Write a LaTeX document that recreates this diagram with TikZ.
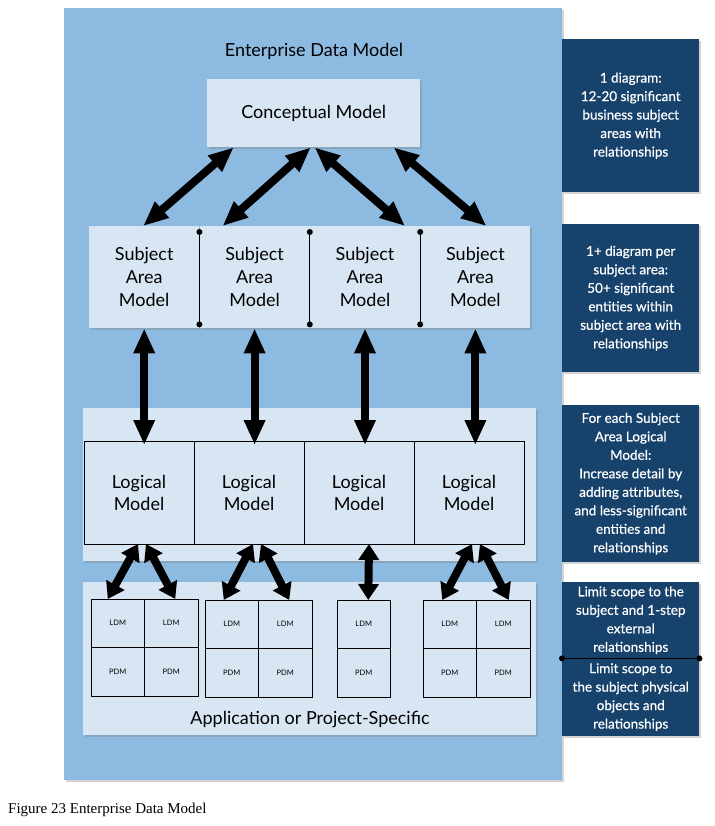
\documentclass[tikz,border=0pt]{standalone}
\usepackage{fontspec}
\setmainfont{Lato}
\newfontfamily\capfont{Liberation Serif}
\usetikzlibrary{positioning,arrows.meta,shadows}

\definecolor{edmblue}{RGB}{141,186,224}
\definecolor{boxfill}{RGB}{216,230,243}
\definecolor{notefill}{RGB}{22,66,108}

\begin{document}
\begin{tikzpicture}[x=1pt,y=-1pt,
    softshadow/.style={drop shadow={opacity=0.35,shadow xshift=2pt,shadow yshift=-2pt}},
    modelbox/.style={fill=boxfill,inner sep=0pt,align=center,font=\fontsize{18}{23}\selectfont,softshadow},
    samodel/.style={modelbox,minimum width=110pt,minimum height=102pt},
    logmodel/.style={draw=black,line width=0.8pt,outer sep=0pt,fill=boxfill,inner sep=0pt,align=center,
        minimum width=110pt,minimum height=103pt,font=\fontsize{18}{22}\selectfont},
    cell/.style={draw=black,line width=0.8pt,outer sep=0pt,fill=boxfill,inner sep=0pt,
        minimum width=53.5pt,minimum height=48.5pt,font=\fontsize{7.5}{9}\selectfont},
    note/.style={fill=notefill,text=white,inner sep=0pt,align=center,minimum width=137pt,
        font=\fontsize{13.5}{18.5}\selectfont\addfontfeature{FakeBold=0.6},softshadow},
    link/.style={{Triangle[width=20pt,length=25pt]}-{Triangle[width=20pt,length=25pt]},line width=8pt},
    shortlink/.style={{Triangle[width=20pt,length=16pt]}-{Triangle[width=20pt,length=16pt]},line width=8pt},
    stem/.style={line width=1.3pt},
    dot/.style={fill=black}
]
\useasboundingbox (0,0) rectangle (714,826);

\node[fill=edmblue,inner sep=0pt,minimum width=498pt,minimum height=772pt,anchor=north west,softshadow] (edm) at (64,8) {};
\node[font=\fontsize{18}{20}\selectfont] (title) at (314,51) {Enterprise Data Model};
\node[modelbox,anchor=north west,minimum width=213pt,minimum height=68pt] (cm) at (207,79) {Conceptual Model};

\node[samodel,anchor=north west] (sa1) at (89,226) {Subject\\Area\\Model};
\node[samodel,right=0pt of sa1] (sa2) {Subject\\Area\\Model};
\node[samodel,right=0pt of sa2] (sa3) {Subject\\Area\\Model};
\node[samodel,right=0pt of sa3] (sa4) {Subject\\Area\\Model};
\draw[stem] ([yshift=-6pt]sa1.north east) coordinate (d1a) -- ([yshift=4pt]sa1.south east) coordinate (d1b);
\draw[stem] ([yshift=-6pt]sa2.north east) coordinate (d2a) -- ([yshift=4pt]sa2.south east) coordinate (d2b);
\draw[stem] ([yshift=-6pt]sa3.north east) coordinate (d3a) -- ([yshift=4pt]sa3.south east) coordinate (d3b);
\fill[dot] (d1a) circle (3pt) (d1b) circle (3pt) (d2a) circle (3pt) (d2b) circle (3pt) (d3a) circle (3pt) (d3b) circle (3pt);

\node[modelbox,anchor=north west,minimum width=453pt,minimum height=153pt] (lband) at (83,408) {};
\node[logmodel,anchor=north west] (lm1) at (84,441) {Logical\\Model};
\node[logmodel,right=0pt of lm1] (lm2) {Logical\\Model};
\node[logmodel,right=0pt of lm2] (lm3) {Logical\\Model};
\node[logmodel,right=0pt of lm3] (lm4) {Logical\\Model};

\node[modelbox,anchor=north west,minimum width=453pt,minimum height=153pt] (aband) at (83,582) {};
\node[font=\fontsize{18}{20}\selectfont] (aps) at (310,720) {Application or Project-Specific};

\node[cell,anchor=north west] (g1a) at (91,599) {LDM};
\node[cell,right=0pt of g1a] (g1b) {LDM};
\node[cell,below=0pt of g1a] (g1c) {PDM};
\node[cell,below=0pt of g1b] (g1d) {PDM};
\node[cell,anchor=north west] (g2a) at (205,600) {LDM};
\node[cell,right=0pt of g2a] (g2b) {LDM};
\node[cell,below=0pt of g2a] (g2c) {PDM};
\node[cell,below=0pt of g2b] (g2d) {PDM};
\node[cell,anchor=north west] (g3a) at (337,600) {LDM};
\node[cell,below=0pt of g3a] (g3c) {PDM};
\node[cell,anchor=north west] (g4a) at (423,600) {LDM};
\node[cell,right=0pt of g4a] (g4b) {LDM};
\node[cell,below=0pt of g4a] (g4c) {PDM};
\node[cell,below=0pt of g4b] (g4d) {PDM};

\node[note,minimum height=153pt,anchor=north west] (n1) at (562,39) {1 diagram:\\12-20 significant\\business subject\\areas with\\relationships};
\node[note,minimum height=148pt,anchor=north west] (n2) at (562,224) {1+ diagram per\\subject area:\\50+ significant\\entities within\\subject area with\\relationships};
\node[note,minimum height=157pt,anchor=north west] (n3) at (562,405) {For each Subject\\Area Logical\\Model:\\Increase detail by\\adding attributes,\\and less-significant\\entities and\\relationships};
\node[note,minimum height=76pt,anchor=north west] (n4) at (562,582) {Limit scope to the\\subject and 1-step\\external\\relationships};
\node[note,minimum height=77pt,below=0pt of n4] (n5) {Limit scope to\\the subject physical\\objects and\\relationships};
\draw[stem] (n4.south west) -- (n4.south east);
\fill[dot] (n4.south west) circle (3pt) (n4.south east) circle (3pt);

\draw[link] ([xshift=-80pt]cm.south) -- ([xshift=-1pt]sa1.north);
\draw[link] ([xshift=-3pt]cm.south) -- ([xshift=-32pt]sa2.north);
\draw[link] ([xshift=1pt]cm.south) -- ([xshift=40pt]sa3.north);
\draw[link] ([xshift=80pt]cm.south) -- ([xshift=11pt]sa4.north);

\draw[link] (sa1.south) -- ([yshift=-4pt]sa1.south |- lm1.north);
\draw[link] (sa2.south) -- ([yshift=-4pt]sa2.south |- lm2.north);
\draw[link] (sa3.south) -- ([yshift=-4pt]sa3.south |- lm3.north);
\draw[link] (sa4.south) -- ([yshift=-4pt]sa4.south |- lm4.north);

\draw[shortlink] ([xshift=-1pt]lm1.south) -- ([xshift=-10pt]g1a.north);
\draw[shortlink] ([xshift=7pt]lm1.south) -- ([xshift=4pt]g1b.north);
\draw[shortlink] ([xshift=4pt]lm2.south) -- ([xshift=-8pt]g2a.north);
\draw[shortlink] ([xshift=12pt]lm2.south) -- ([xshift=4pt]g2b.north);
\draw[shortlink] ([xshift=10pt]lm3.south) -- ([xshift=4.5pt]g3a.north);
\draw[shortlink] ([xshift=3pt]lm4.south) -- ([xshift=-7.5pt]g4a.north);
\draw[shortlink] ([xshift=11pt]lm4.south) -- ([xshift=5.5pt]g4b.north);

\node[anchor=base west,inner sep=0pt,font=\capfont\fontsize{15}{17}\selectfont] (cap) at (8,813) {Figure 23 Enterprise Data Model};
\end{tikzpicture}
\end{document}
